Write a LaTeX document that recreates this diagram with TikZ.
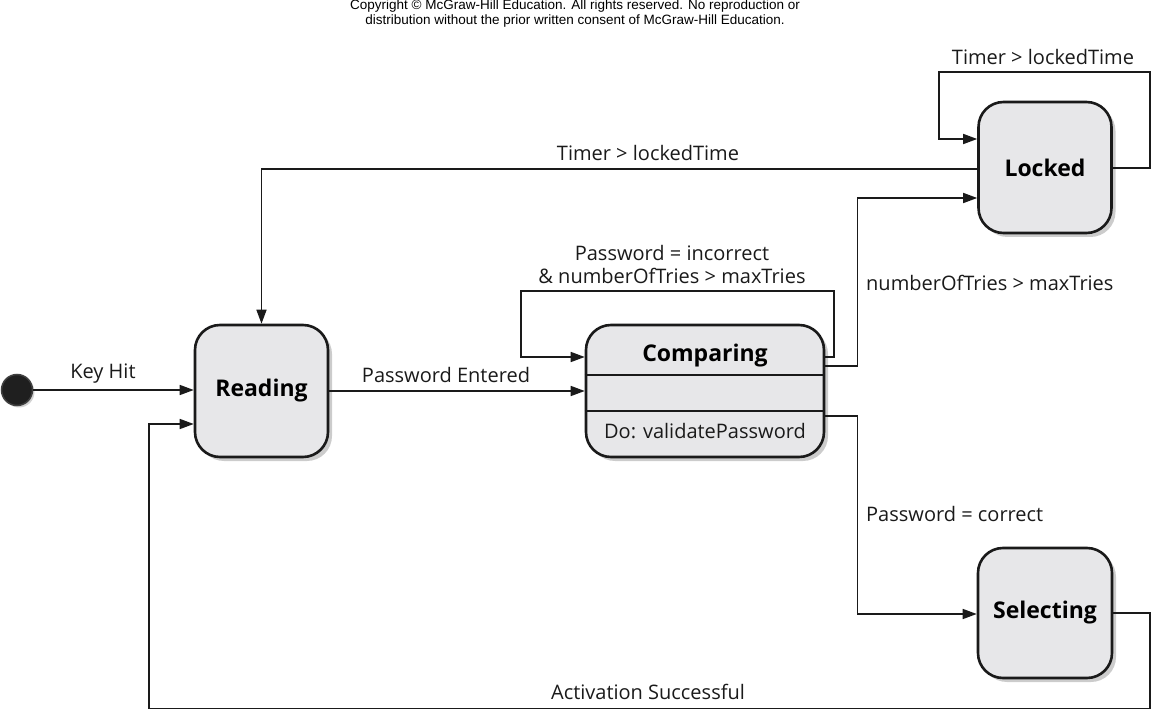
\documentclass[tikz,border=0pt]{standalone}
\usepackage{fontspec}
\setmainfont{Open Sans}
\newfontfamily\copyfont{Liberation Sans}
\usetikzlibrary{arrows.meta,shadows}
\definecolor{boxfill}{HTML}{E7E7E9}
\definecolor{linecol}{HTML}{1A1A1A}
\tikzset{
  statebox/.style={draw=linecol, line width=2.6pt, fill=boxfill, rounded corners=25pt,
    drop shadow={shadow xshift=4pt, shadow yshift=-4pt, fill=black!40},
    inner sep=0pt, font=\fontsize{23}{26}\selectfont\bfseries},
  conn/.style={draw=linecol, line width=1.6pt, -{Triangle[length=14pt,width=10pt]}},
  lbl/.style={font=\fontsize{20}{24}\selectfont, text=linecol, inner sep=0pt},
}
\begin{document}
\begin{tikzpicture}[x=1pt,y=-1pt]
\useasboundingbox (0,0) rectangle (1152,711);
% copyright
\node[font=\copyfont\fontsize{13.5}{15.5}\selectfont, align=center, inner sep=0pt] (copy) at (575,13.5)
  {Copyright \textcopyright{} McGraw-Hill Education. All rights reserved. No reproduction or\\
   distribution without the prior written consent of McGraw-Hill Education.};
% initial state
\node[circle, draw=black!75, line width=1.5pt, fill=black!88, minimum size=31pt, inner sep=0pt,
  drop shadow={shadow xshift=2pt, shadow yshift=-2pt, fill=black!35}] (init) at (17,390) {};
% states
\node[statebox, minimum width=133pt, minimum height=132pt] (Reading) at (261.5,391) {Reading};
\node[statebox, minimum width=238pt, minimum height=132pt] (Comparing) at (705,391) {};
\node[statebox, minimum width=133pt, minimum height=131pt] (Locked) at (1045,167.5) {Locked};
\node[statebox, minimum width=134pt, minimum height=130pt] (Selecting) at (1045,613) {Selecting};
% Comparing compartments
\draw[linecol, line width=2pt] (Comparing.west |- 0,375) -- (Comparing.east |- 0,375);
\draw[linecol, line width=2pt] (Comparing.west |- 0,411) -- (Comparing.east |- 0,411);
\node[font=\fontsize{23}{26}\selectfont\bfseries, inner sep=0pt] (ctitle) at (705,355.5) {Comparing};
\node[lbl] (cdo) at (705,431) {Do: validatePassword};
% connectors
\draw[conn] (init.east) -- (Reading.west |- init.east);
\draw[conn] (Reading.east |- 0,391) -- (Comparing.west |- 0,391);
\draw[conn] (Comparing.east |- 0,357) -| (834,291) -| (521,357) -- (Comparing.west |- 0,357);
\draw[conn] (Comparing.east |- 0,366) -| (857.5,198) -- (Locked.west |- 0,198);
\draw[conn] (Comparing.east |- 0,416) -| (857.5,614) -- (Selecting.west |- 0,614);
\draw[conn] (Locked.east |- 0,168) -| (1150,72) -| (939,139) -- (Locked.west |- 0,139);
\draw[conn] (Locked.west |- 0,169) -| (Reading.north);
\draw[conn] (Selecting.east |- 0,613) -| (1150,708.5) -| (149,424) -- (Reading.west |- 0,424);
% labels
\node[lbl] (l1) at (103,374) {Key Hit};
\node[lbl] (l2) at (446,375) {Password Entered};
\node[lbl, align=center] (l3) at (672,264.5) {Password = incorrect\\[-1pt] \& numberOfTries > maxTries};
\node[lbl] (l4) at (648,153) {Timer > lockedTime};
\node[lbl] (l5) at (1043,57) {Timer > lockedTime};
\node[lbl, anchor=west] (l6) at (866,283) {numberOfTries > maxTries};
\node[lbl, anchor=west] (l7) at (866,514) {Password = correct};
\node[lbl] (l8) at (648,692) {Activation Successful};
\end{tikzpicture}
\end{document}
